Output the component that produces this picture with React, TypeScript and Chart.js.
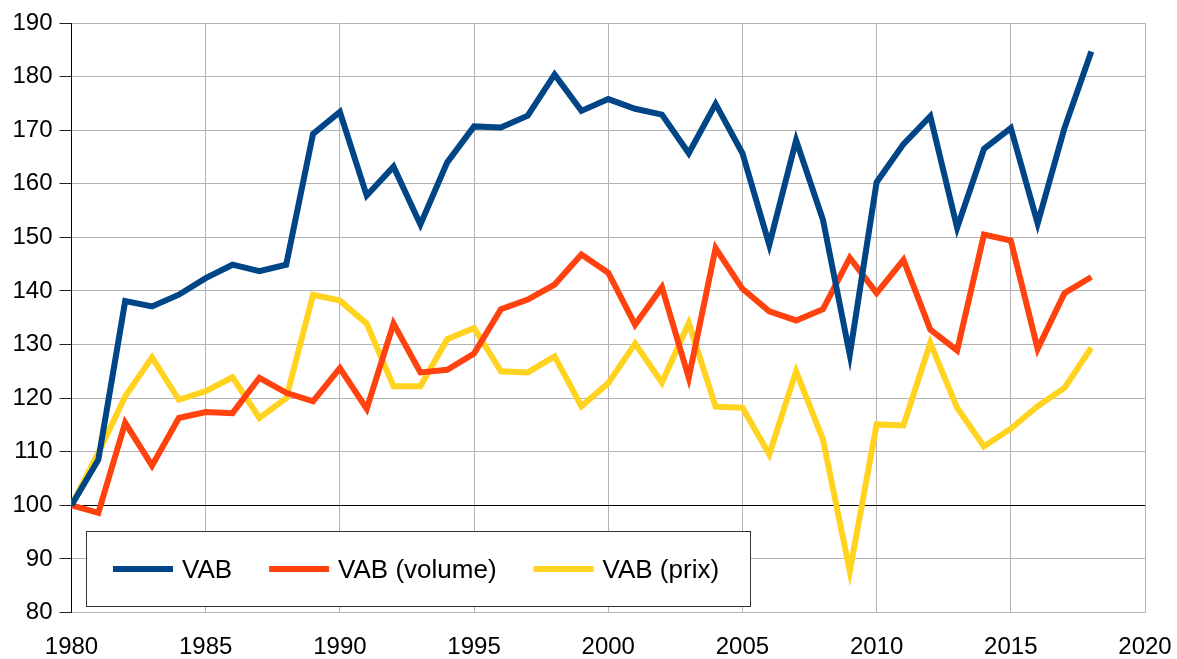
import React, { useEffect, useRef } from "react";
import { Chart, registerables } from "chart.js";

Chart.register(...registerables);

const YEARS = [
  1980, 1981, 1982, 1983, 1984, 1985, 1986, 1987, 1988, 1989,
  1990, 1991, 1992, 1993, 1994, 1995, 1996, 1997, 1998, 1999,
  2000, 2001, 2002, 2003, 2004, 2005, 2006, 2007, 2008, 2009,
  2010, 2011, 2012, 2013, 2014, 2015, 2016, 2017, 2018,
];

const VAB = [
  100, 108.5, 138.1, 137.1, 139.3, 142.4, 144.9, 143.7, 144.9, 169.3,
  173.4, 157.8, 163.2, 152.4, 164.0, 170.7, 170.5, 172.7, 180.4, 173.6,
  175.8, 174.0, 172.9, 165.7, 174.9, 165.7, 148.6, 168.1, 153.3, 128.1,
  160.3, 167.4, 172.6, 151.8, 166.5, 170.4, 152.6, 170.4, 184.7,
];

const VAB_VOLUME = [
  100, 98.6, 115.4, 107.4, 116.3, 117.4, 117.2, 123.8, 121.0, 119.4,
  125.6, 118.0, 133.9, 124.8, 125.3, 128.3, 136.6, 138.4, 141.2, 146.8,
  143.4, 133.7, 140.7, 123.8, 148.0, 140.4, 136.2, 134.5, 136.6, 146.2,
  139.6, 145.8, 132.8, 128.9, 150.5, 149.4, 129.2, 139.6, 142.6,
];

const VAB_PRIX = [
  100, 109.8, 120.3, 127.6, 119.7, 121.3, 123.9, 116.3, 120.0, 139.3,
  138.2, 133.9, 122.2, 122.2, 131.0, 133.1, 125.0, 124.8, 127.8, 118.5,
  122.8, 130.2, 122.9, 134.0, 118.4, 118.2, 109.5, 125.0, 112.3, 87.7,
  115.1, 114.9, 130.3, 118.2, 111.0, 114.3, 118.5, 121.9, 129.4,
];

const SERIES_LABELS = ["VAB", "VAB (volume)", "VAB (prix)"];
const SERIES_COLORS = ["#004586", "#ff420e", "#ffd320"];

const FONT = "'Liberation Sans', Arial, sans-serif";

const legendPlugin = {
  id: "boxLegend",
  afterDatasetsDraw(chart: any) {
    const ctx = chart.ctx;
    const left = 86.5;
    const top = 531.5;
    const right = 750.5;
    const bottom = 606.5;
    ctx.save();
    ctx.fillStyle = "#ffffff";
    ctx.fillRect(left, top, right - left, bottom - top);
    ctx.strokeStyle = "#333333";
    ctx.lineWidth = 1;
    ctx.strokeRect(left, top, right - left, bottom - top);
    ctx.font = `26px ${FONT}`;
    ctx.textBaseline = "alphabetic";
    ctx.textAlign = "left";
    let x = 113;
    const lineY = 569;
    chart.data.datasets.forEach((ds: any) => {
      ctx.strokeStyle = ds.borderColor;
      ctx.lineWidth = 6;
      ctx.lineCap = "butt";
      ctx.beginPath();
      ctx.moveTo(x, lineY);
      ctx.lineTo(x + 60, lineY);
      ctx.stroke();
      ctx.fillStyle = "#000000";
      const tx = x + 69;
      ctx.fillText(ds.label, tx, 577.5);
      x = tx + ctx.measureText(ds.label).width + 37;
    });
    ctx.restore();
  },
};

export default function App() {
  const canvasRef = useRef<HTMLCanvasElement | null>(null);

  useEffect(() => {
    const canvas = canvasRef.current;
    if (!canvas) return;
    const seriesValues = [VAB, VAB_VOLUME, VAB_PRIX];
    const chart = new Chart(canvas, {
      type: "line",
      data: {
        datasets: seriesValues.map((vals, i) => ({
          label: SERIES_LABELS[i],
          data: YEARS.map((yr, j) => ({ x: yr, y: vals[j] })),
          borderColor: SERIES_COLORS[i],
          backgroundColor: SERIES_COLORS[i],
          borderWidth: 6,
          pointRadius: 0,
          pointHoverRadius: 0,
          tension: 0,
          borderJoinStyle: "miter" as const,
          borderCapStyle: "butt" as const,
          fill: false,
        })),
      },
      options: {
        animation: false,
        responsive: false,
        devicePixelRatio: 1,
        layout: { padding: { top: 23, right: 32, bottom: 0, left: 0 } },
        plugins: {
          legend: { display: false },
          tooltip: { enabled: false },
          title: { display: false },
        },
        scales: {
          x: {
            type: "linear",
            min: 1980,
            max: 2020,
            ticks: {
              stepSize: 5,
              color: "#000000",
              font: { family: FONT, size: 24 },
              padding: 0,
              maxRotation: 0,
              callback: (v: any) => String(v),
            },
            grid: {
              color: "#b3b3b3",
              lineWidth: 1,
              drawTicks: true,
              tickLength: 20,
              tickColor: "rgba(0,0,0,0)",
            },
            border: { display: false },
            afterFit: (scale: any) => {
              scale.height = 46.5;
            },
          },
          y: {
            type: "linear",
            min: 80,
            max: 190,
            ticks: {
              stepSize: 10,
              color: "#000000",
              font: { family: FONT, size: 24 },
              padding: 7,
              callback: (v: any) => String(v),
            },
            grid: {
              color: (c: any) => (c.tick && c.tick.value === 100 ? "#000000" : "#b3b3b3"),
              lineWidth: 1,
              drawTicks: true,
              tickLength: 12,
              tickColor: "#222222",
            },
            border: { display: true, color: "#000000", width: 1 },
            afterFit: (scale: any) => {
              scale.width = 71.5;
            },
          },
        },
      },
      plugins: [legendPlugin],
    });
    return () => {
      chart.destroy();
    };
  }, []);

  return (
    <div
      style={{
        position: "fixed",
        left: 0,
        top: 0,
        width: 1177,
        height: 659,
        background: "#ffffff",
      }}
    >
      <canvas
        ref={canvasRef}
        width={1177}
        height={659}
        style={{ width: 1177, height: 659, display: "block" }}
      />
    </div>
  );
}
